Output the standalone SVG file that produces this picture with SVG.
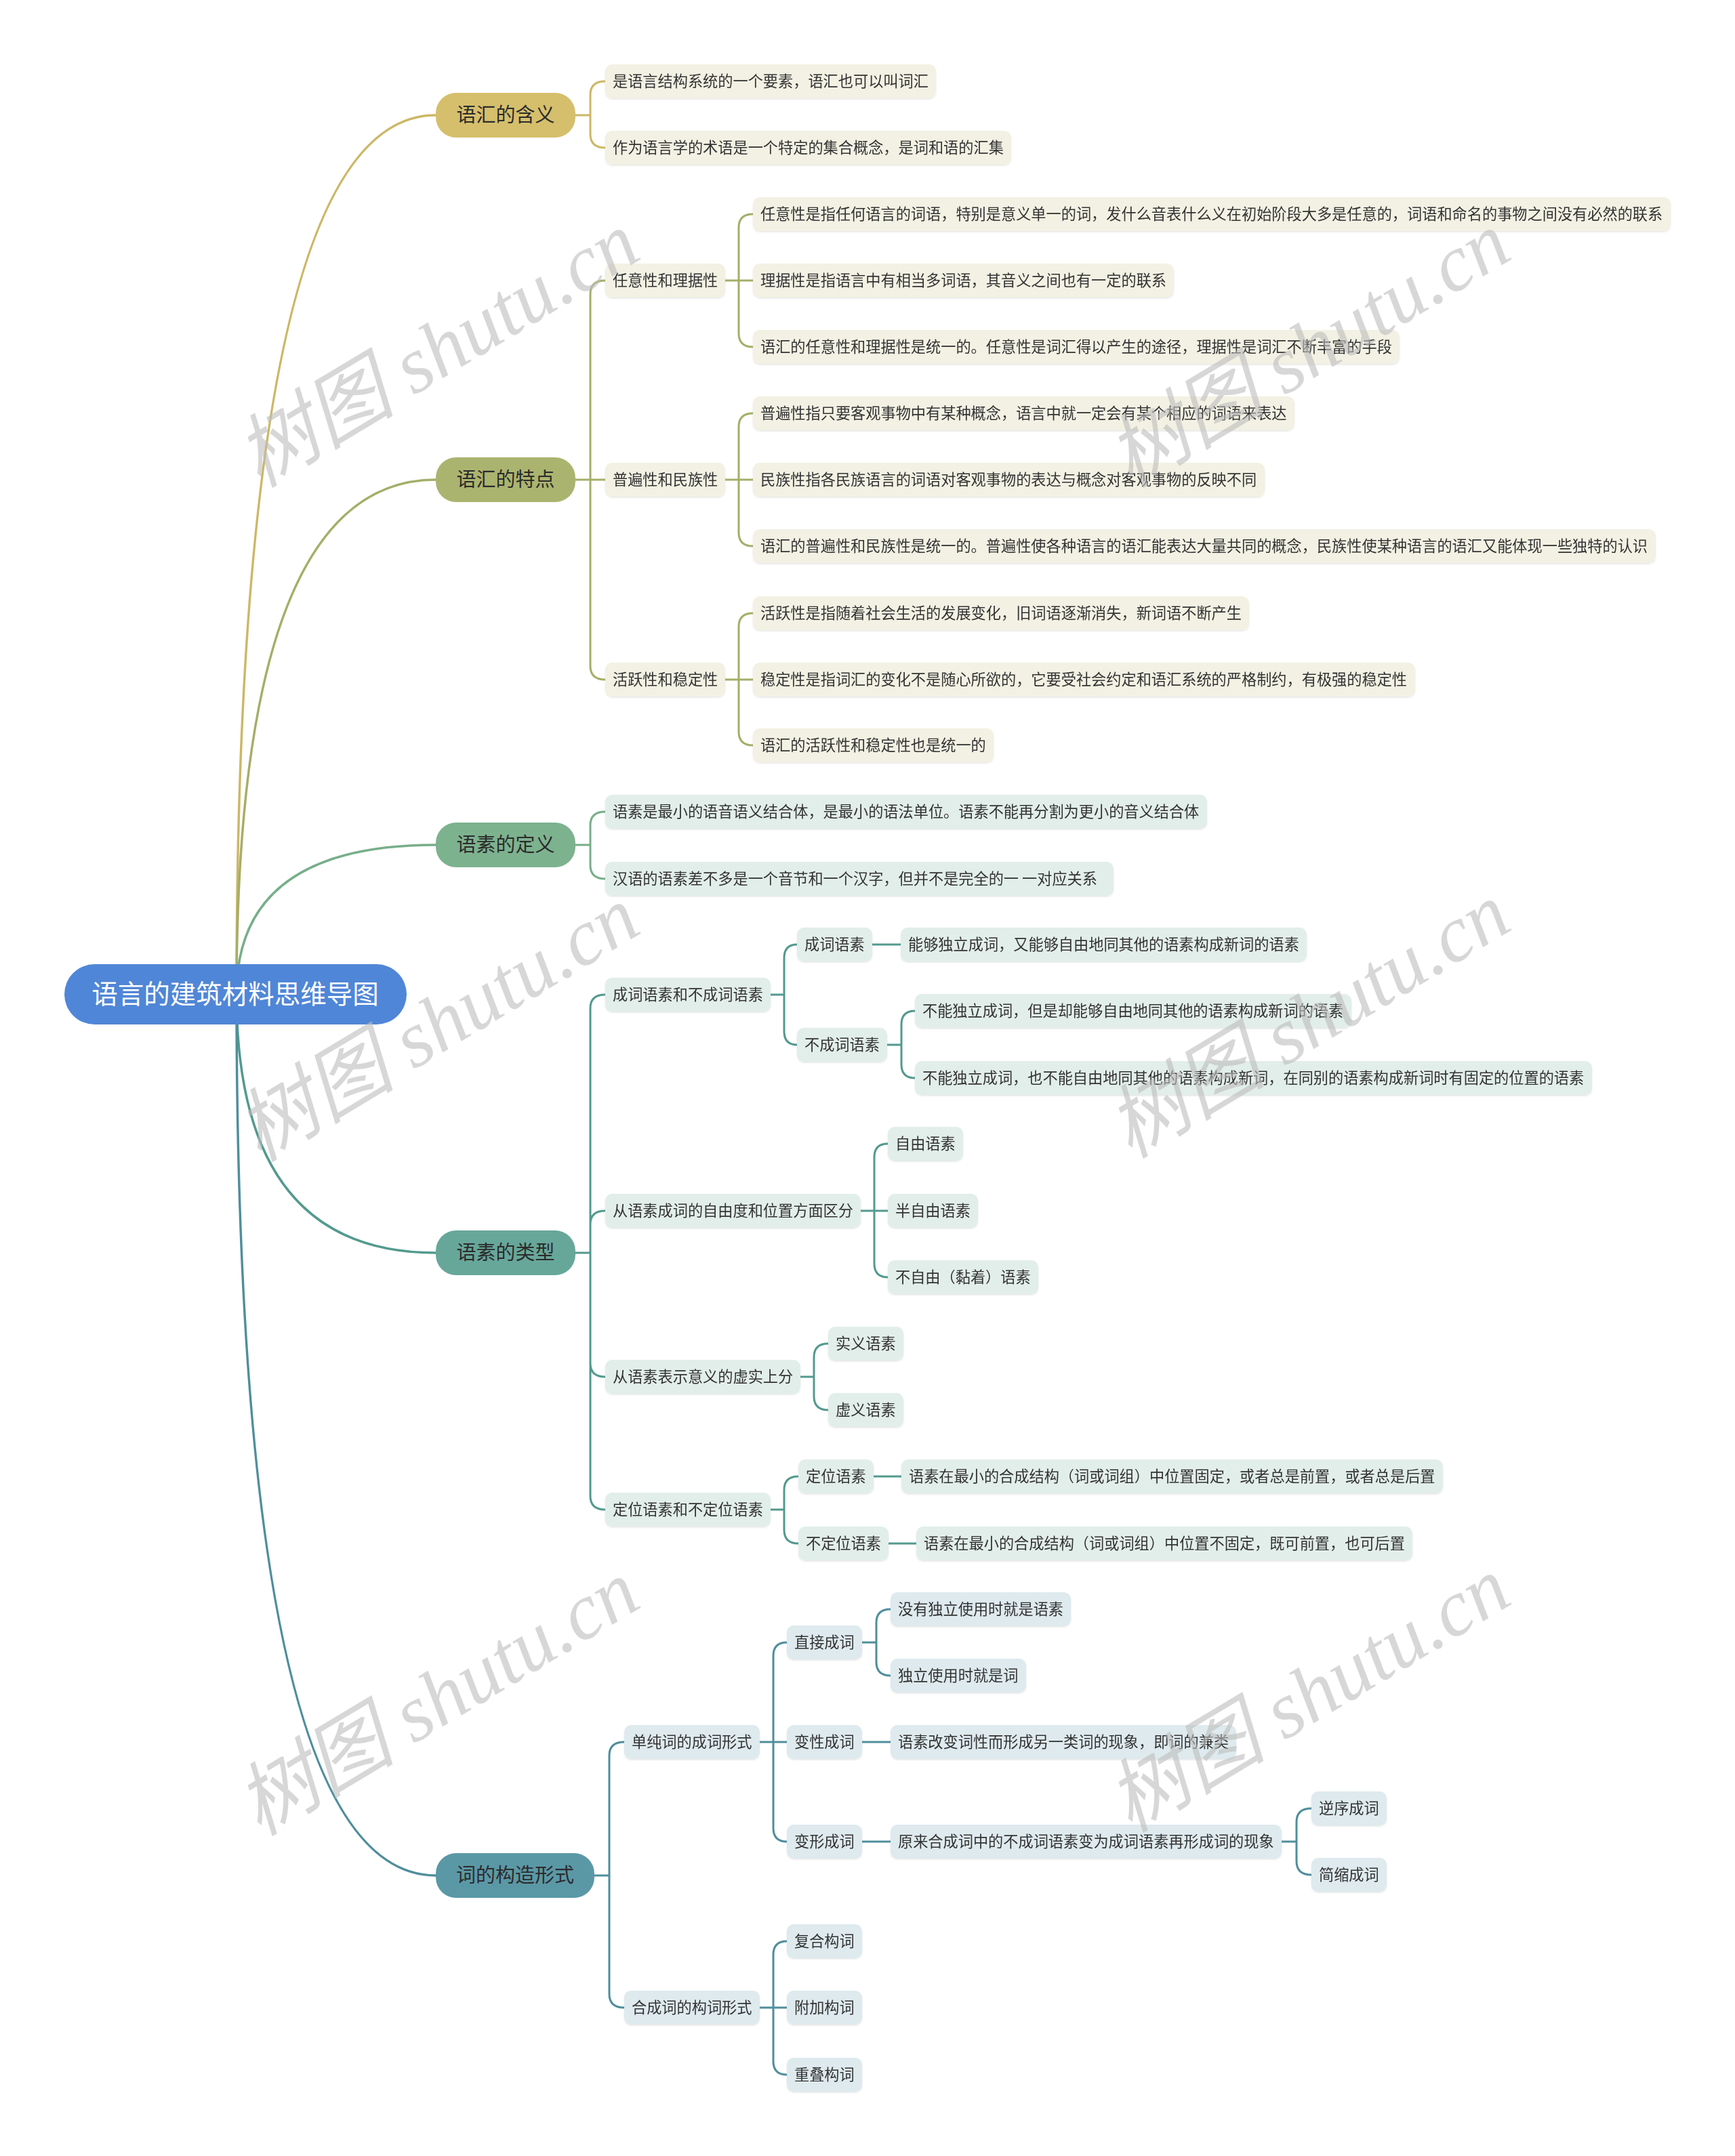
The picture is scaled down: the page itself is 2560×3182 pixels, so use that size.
<svg xmlns="http://www.w3.org/2000/svg" width="2560" height="3182" viewBox="0 0 2560 3182">
<style>
text{font-family:"Noto Sans CJK SC","Noto Sans",sans-serif;}
.t{font-size:22.2px;fill:#333333;}
.t1{font-size:29px;fill:#2b2b2b;text-anchor:middle;}
.t0{font-size:38.5px;fill:#ffffff;text-anchor:middle;}
.c{fill:none;stroke-linecap:round;stroke-linejoin:round;}
.c0{stroke-width:3.5;}
.cb{stroke-width:3;}
.k1{stroke:#CDB766;}
.k2{stroke:#A5AE68;}
.k3{stroke:#78AE8A;}
.k4{stroke:#529A8E;}
.k5{stroke:#4F8E9D;}
.fa{fill:#F2F1E3;}
.fb{fill:#E2EEEA;}
.fc{fill:#DEEAEE;}
.wm{font-family:"Liberation Serif","Noto Sans CJK SC",serif;font-style:italic;font-size:118px;fill:#bdbdbd;fill-opacity:0.6;text-anchor:middle;}
</style>
<defs>
<filter id="sh" x="-5%" y="-20%" width="110%" height="150%">
<feDropShadow dx="0" dy="1.5" stdDeviation="1.2" flood-color="#000" flood-opacity="0.10"/>
</filter>
</defs>
<rect width="2560" height="3182" fill="#ffffff"/>

<g id="connectors">
<path class="c c0 k1" d="M349,1467 Q349,170 643,170"/>
<path class="c c0 k2" d="M349,1467 Q349,708 643,708"/>
<path class="c c0 k3" d="M349,1467 Q349,1247 643,1247"/>
<path class="c c0 k4" d="M349,1467 Q349,1849 643,1849"/>
<path class="c c0 k5" d="M349,1467 Q349,2768 643,2768"/>

<path class="c cb k1" d="M849,170 H871 M871,170 V140 Q871,120 893,120 M871,170 V198 Q871,218 893,218"/>

<path class="c cb k2" d="M849,708 H893 M871,708 V434 Q871,414 893,414 M871,708 V983 Q871,1003 893,1003"/>
<path class="c cb k2" d="M1070,414 H1111 M1090,414 V336 Q1090,316 1111,316 M1090,414 V492 Q1090,512 1111,512"/>
<path class="c cb k2" d="M1070,708 H1111 M1090,708 V630 Q1090,610 1111,610 M1090,708 V786 Q1090,806 1111,806"/>
<path class="c cb k2" d="M1070,1003 H1111 M1090,1003 V925 Q1090,905 1111,905 M1090,1003 V1080 Q1090,1100 1111,1100"/>

<path class="c cb k3" d="M849,1247 H871 M871,1247 V1218 Q871,1198 893,1198 M871,1247 V1277 Q871,1297 893,1297"/>

<path class="c cb k4" d="M849,1849 H871 M871,1849 V1488 Q871,1468 893,1468 M871,1849 V1807 Q871,1787 893,1787 M871,1849 V2012 Q871,2032 893,2032 M871,1849 V2208 Q871,2228 893,2228"/>
<path class="c cb k4" d="M1137,1468 H1157 M1157,1468 V1414 Q1157,1394 1176,1394 M1157,1468 V1522 Q1157,1542 1176,1542"/>
<path class="c cb k4" d="M1287,1394 H1329"/>
<path class="c cb k4" d="M1309,1542 H1330 M1330,1542 V1512 Q1330,1492 1350,1492 M1330,1542 V1571 Q1330,1591 1350,1591"/>
<path class="c cb k4" d="M1270,1787 H1310 M1290,1787 V1708 Q1290,1688 1310,1688 M1290,1787 V1865 Q1290,1885 1310,1885"/>
<path class="c cb k4" d="M1181,2032 H1201 M1201,2032 V2003 Q1201,1983 1222,1983 M1201,2032 V2061 Q1201,2081 1222,2081"/>
<path class="c cb k4" d="M1137,2228 H1157 M1157,2228 V2199 Q1157,2179 1178,2179 M1157,2228 V2258 Q1157,2278 1178,2278"/>
<path class="c cb k4" d="M1289,2179 H1330"/>
<path class="c cb k4" d="M1311,2278 H1352"/>

<path class="c cb k5" d="M877,2768 H899 M899,2768 V2591 Q899,2571 921,2571 M899,2768 V2943 Q899,2963 921,2963"/>
<path class="c cb k5" d="M1121,2571 H1161 M1141,2571 V2444 Q1141,2424 1161,2424 M1141,2571 V2698 Q1141,2718 1161,2718"/>
<path class="c cb k5" d="M1272,2424 H1293 M1293,2424 V2395 Q1293,2375 1314,2375 M1293,2424 V2453 Q1293,2473 1314,2473"/>
<path class="c cb k5" d="M1272,2571 H1314"/>
<path class="c cb k5" d="M1272,2718 H1314"/>
<path class="c cb k5" d="M1891,2718 H1913 M1913,2718 V2689 Q1913,2669 1935,2669 M1913,2718 V2747 Q1913,2767 1935,2767"/>
<path class="c cb k5" d="M1121,2963 H1161 M1141,2963 V2885 Q1141,2865 1161,2865 M1141,2963 V3042 Q1141,3062 1161,3062"/>
</g>

<g id="root"><rect x="95" y="1423" width="505" height="89" rx="44.5" fill="#5086D7"/><text class="t0" x="347" y="1481">语言的建筑材料思维导图</text></g>

<g id="n1"><rect x="643" y="137" width="206" height="66" rx="30" fill="#D5BF6C"/><text class="t1" x="746" y="180">语汇的含义</text></g>
<g id="n2"><rect x="643" y="675" width="206" height="66" rx="30" fill="#ABB46F"/><text class="t1" x="746" y="718">语汇的特点</text></g>
<g id="n3"><rect x="643" y="1214" width="206" height="66" rx="30" fill="#7DB28F"/><text class="t1" x="746" y="1257">语素的定义</text></g>
<g id="n4"><rect x="643" y="1816" width="206" height="66" rx="30" fill="#67A79A"/><text class="t1" x="746" y="1859">语素的类型</text></g>
<g id="n5"><rect x="643" y="2735" width="234" height="66" rx="30" fill="#5B98A6"/><text class="t1" x="760" y="2778">词的构造形式</text></g>

<g filter="url(#sh)">
<g id="n1_1"><rect class="fa" x="893" y="95" width="488" height="50" rx="10"/><text class="t" x="904" y="128">是语言结构系统的一个要素，语汇也可以叫词汇</text></g>
<g id="n1_2"><rect class="fa" x="893" y="193" width="599" height="50" rx="10"/><text class="t" x="904" y="226">作为语言学的术语是一个特定的集合概念，是词和语的汇集</text></g>

<g id="n2_1"><rect class="fa" x="893" y="389" width="177" height="50" rx="10"/><text class="t" x="904" y="422">任意性和理据性</text></g>
<g id="n2_2"><rect class="fa" x="893" y="683" width="177" height="50" rx="10"/><text class="t" x="904" y="716">普遍性和民族性</text></g>
<g id="n2_3"><rect class="fa" x="893" y="978" width="177" height="50" rx="10"/><text class="t" x="904" y="1011">活跃性和稳定性</text></g>

<g id="n2_1_1"><rect class="fa" x="1111" y="291" width="1354" height="50" rx="10"/><text class="t" x="1122" y="324">任意性是指任何语言的词语，特别是意义单一的词，发什么音表什么义在初始阶段大多是任意的，词语和命名的事物之间没有必然的联系</text></g>
<g id="n2_1_2"><rect class="fa" x="1111" y="389" width="621" height="50" rx="10"/><text class="t" x="1122" y="422">理据性是指语言中有相当多词语，其音义之间也有一定的联系</text></g>
<g id="n2_1_3"><rect class="fa" x="1111" y="487" width="954" height="50" rx="10"/><text class="t" x="1122" y="520">语汇的任意性和理据性是统一的。任意性是词汇得以产生的途径，理据性是词汇不断丰富的手段</text></g>
<g id="n2_2_1"><rect class="fa" x="1111" y="585" width="799" height="50" rx="10"/><text class="t" x="1122" y="618">普遍性指只要客观事物中有某种概念，语言中就一定会有某个相应的词语来表达</text></g>
<g id="n2_2_2"><rect class="fa" x="1111" y="683" width="755" height="50" rx="10"/><text class="t" x="1122" y="716">民族性指各民族语言的词语对客观事物的表达与概念对客观事物的反映不同</text></g>
<g id="n2_2_3"><rect class="fa" x="1111" y="781" width="1332" height="50" rx="10"/><text class="t" x="1122" y="814">语汇的普遍性和民族性是统一的。普遍性使各种语言的语汇能表达大量共同的概念，民族性使某种语言的语汇又能体现一些独特的认识</text></g>
<g id="n2_3_1"><rect class="fa" x="1111" y="880" width="732" height="50" rx="10"/><text class="t" x="1122" y="913">活跃性是指随着社会生活的发展变化，旧词语逐渐消失，新词语不断产生</text></g>
<g id="n2_3_2"><rect class="fa" x="1111" y="978" width="977" height="50" rx="10"/><text class="t" x="1122" y="1011">稳定性是指词汇的变化不是随心所欲的，它要受社会约定和语汇系统的严格制约，有极强的稳定性</text></g>
<g id="n2_3_3"><rect class="fa" x="1111" y="1075" width="355" height="50" rx="10"/><text class="t" x="1122" y="1108">语汇的活跃性和稳定性也是统一的</text></g>

<g id="n3_1"><rect class="fb" x="893" y="1173" width="888" height="50" rx="10"/><text class="t" x="904" y="1206">语素是最小的语音语义结合体，是最小的语法单位。语素不能再分割为更小的音义结合体</text></g>
<g id="n3_2"><rect class="fb" x="893" y="1272" width="750" height="50" rx="10"/><text class="t" x="904" y="1305">汉语的语素差不多是一个音节和一个汉字，但并不是完全的一 一对应关系</text></g>

<g id="n4_1"><rect class="fb" x="893" y="1443" width="244" height="50" rx="10"/><text class="t" x="904" y="1476">成词语素和不成词语素</text></g>
<g id="n4_1_1"><rect class="fb" x="1176" y="1369" width="111" height="50" rx="10"/><text class="t" x="1187" y="1402">成词语素</text></g>
<g id="n4_1_1_1"><rect class="fb" x="1329" y="1369" width="599" height="50" rx="10"/><text class="t" x="1340" y="1402">能够独立成词，又能够自由地同其他的语素构成新词的语素</text></g>
<g id="n4_1_2"><rect class="fb" x="1176" y="1517" width="133" height="50" rx="10"/><text class="t" x="1187" y="1550">不成词语素</text></g>
<g id="n4_1_2_1"><rect class="fb" x="1350" y="1467" width="644" height="50" rx="10"/><text class="t" x="1361" y="1500">不能独立成词，但是却能够自由地同其他的语素构成新词的语素</text></g>
<g id="n4_1_2_2"><rect class="fb" x="1350" y="1566" width="999" height="50" rx="10"/><text class="t" x="1361" y="1599">不能独立成词，也不能自由地同其他的语素构成新词，在同别的语素构成新词时有固定的位置的语素</text></g>
<g id="n4_2"><rect class="fb" x="893" y="1762" width="377" height="50" rx="10"/><text class="t" x="904" y="1795">从语素成词的自由度和位置方面区分</text></g>
<g id="n4_2_1"><rect class="fb" x="1310" y="1663" width="111" height="50" rx="10"/><text class="t" x="1321" y="1696">自由语素</text></g>
<g id="n4_2_2"><rect class="fb" x="1310" y="1762" width="133" height="50" rx="10"/><text class="t" x="1321" y="1795">半自由语素</text></g>
<g id="n4_2_3"><rect class="fb" x="1310" y="1860" width="222" height="50" rx="10"/><text class="t" x="1321" y="1893">不自由（黏着）语素</text></g>
<g id="n4_3"><rect class="fb" x="893" y="2007" width="288" height="50" rx="10"/><text class="t" x="904" y="2040">从语素表示意义的虚实上分</text></g>
<g id="n4_3_1"><rect class="fb" x="1222" y="1958" width="111" height="50" rx="10"/><text class="t" x="1233" y="1991">实义语素</text></g>
<g id="n4_3_2"><rect class="fb" x="1222" y="2056" width="111" height="50" rx="10"/><text class="t" x="1233" y="2089">虚义语素</text></g>
<g id="n4_4"><rect class="fb" x="893" y="2203" width="244" height="50" rx="10"/><text class="t" x="904" y="2236">定位语素和不定位语素</text></g>
<g id="n4_4_1"><rect class="fb" x="1178" y="2154" width="111" height="50" rx="10"/><text class="t" x="1189" y="2187">定位语素</text></g>
<g id="n4_4_1_1"><rect class="fb" x="1330" y="2154" width="799" height="50" rx="10"/><text class="t" x="1341" y="2187">语素在最小的合成结构（词或词组）中位置固定，或者总是前置，或者总是后置</text></g>
<g id="n4_4_2"><rect class="fb" x="1178" y="2253" width="133" height="50" rx="10"/><text class="t" x="1189" y="2286">不定位语素</text></g>
<g id="n4_4_2_1"><rect class="fb" x="1352" y="2253" width="732" height="50" rx="10"/><text class="t" x="1363" y="2286">语素在最小的合成结构（词或词组）中位置不固定，既可前置，也可后置</text></g>

<g id="n5_1"><rect class="fc" x="921" y="2546" width="200" height="50" rx="10"/><text class="t" x="932" y="2579">单纯词的成词形式</text></g>
<g id="n5_1_1"><rect class="fc" x="1161" y="2399" width="111" height="50" rx="10"/><text class="t" x="1172" y="2432">直接成词</text></g>
<g id="n5_1_1_1"><rect class="fc" x="1314" y="2350" width="266" height="50" rx="10"/><text class="t" x="1325" y="2383">没有独立使用时就是语素</text></g>
<g id="n5_1_1_2"><rect class="fc" x="1314" y="2448" width="200" height="50" rx="10"/><text class="t" x="1325" y="2481">独立使用时就是词</text></g>
<g id="n5_1_2"><rect class="fc" x="1161" y="2546" width="111" height="50" rx="10"/><text class="t" x="1172" y="2579">变性成词</text></g>
<g id="n5_1_2_1"><rect class="fc" x="1314" y="2546" width="510" height="50" rx="10"/><text class="t" x="1325" y="2579">语素改变词性而形成另一类词的现象，即词的兼类</text></g>
<g id="n5_1_3"><rect class="fc" x="1161" y="2693" width="111" height="50" rx="10"/><text class="t" x="1172" y="2726">变形成词</text></g>
<g id="n5_1_3_1"><rect class="fc" x="1314" y="2693" width="577" height="50" rx="10"/><text class="t" x="1325" y="2726">原来合成词中的不成词语素变为成词语素再形成词的现象</text></g>
<g id="n5_1_3_1_1"><rect class="fc" x="1935" y="2644" width="111" height="50" rx="10"/><text class="t" x="1946" y="2677">逆序成词</text></g>
<g id="n5_1_3_1_2"><rect class="fc" x="1935" y="2742" width="111" height="50" rx="10"/><text class="t" x="1946" y="2775">简缩成词</text></g>
<g id="n5_2"><rect class="fc" x="921" y="2938" width="200" height="50" rx="10"/><text class="t" x="932" y="2971">合成词的构词形式</text></g>
<g id="n5_2_1"><rect class="fc" x="1161" y="2840" width="111" height="50" rx="10"/><text class="t" x="1172" y="2873">复合构词</text></g>
<g id="n5_2_2"><rect class="fc" x="1161" y="2938" width="111" height="50" rx="10"/><text class="t" x="1172" y="2971">附加构词</text></g>
<g id="n5_2_3"><rect class="fc" x="1161" y="3037" width="111" height="50" rx="10"/><text class="t" x="1172" y="3070">重叠构词</text></g>
</g>

<g id="watermarks">
<text class="wm" transform="translate(645,515) rotate(-31)" dy="0.35em">树图 shutu.cn</text>
<text class="wm" transform="translate(1930,515) rotate(-31)" dy="0.35em">树图 shutu.cn</text>
<text class="wm" transform="translate(645,1510) rotate(-31)" dy="0.35em">树图 shutu.cn</text>
<text class="wm" transform="translate(1930,1505) rotate(-31)" dy="0.35em">树图 shutu.cn</text>
<text class="wm" transform="translate(645,2505) rotate(-31)" dy="0.35em">树图 shutu.cn</text>
<text class="wm" transform="translate(1930,2500) rotate(-31)" dy="0.35em">树图 shutu.cn</text>
</g>
</svg>
